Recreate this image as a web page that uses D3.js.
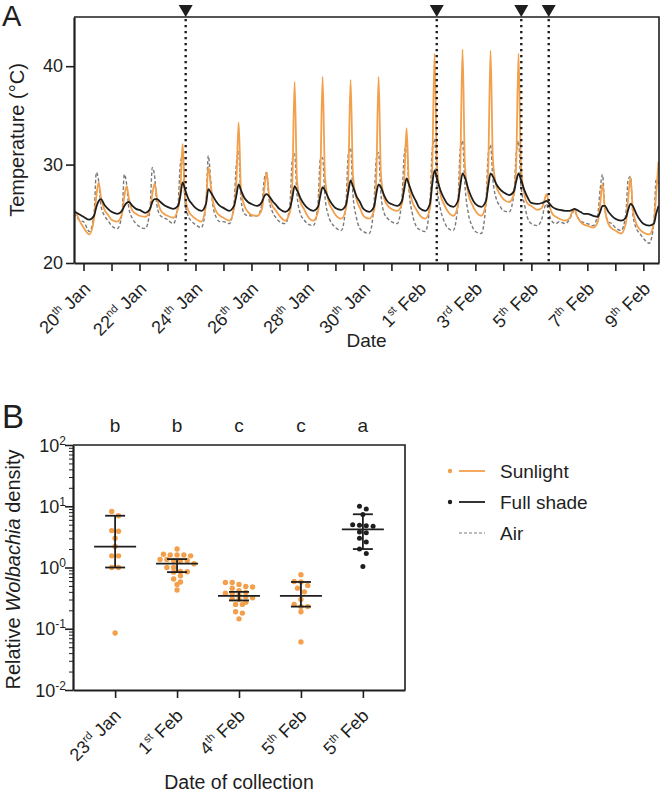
<!DOCTYPE html>
<html><head><meta charset="utf-8">
<script src="https://cdn.jsdelivr.net/npm/d3@7"></script>
<style>
body{margin:0;background:#fff}
svg{display:block}
text{font-family:"Liberation Sans",Arial,sans-serif;fill:#1e1e1e}
</style>
</head><body>
<svg id="chart" width="662" height="793"></svg>
<script>
// ---------------- DATA: panel A (temperature, °C) ----------------
// one row per day, values at these hours of the day
const hoursOfDay = [0, 5, 9, 11, 13, 15, 18, 21];
const firstDay = -1; // rows start on 19 Jan (day -1 relative to 20 Jan)
const sunlight = [
 [null,null,null,null,null,25.6,25.0,24.2],
 [23.6,22.9,24.5,26.8,28.2,26.6,25.4,24.9],
 [24.4,24.2,25.0,26.8,27.8,26.5,25.3,25.0],
 [24.8,24.7,25.4,27.0,28.1,26.6,25.4,25.0],
 [24.8,24.6,25.5,27.5,32.1,26.8,25.3,24.8],
 [24.5,24.2,26.0,29.8,28.0,26.2,25.2,24.8],
 [24.6,24.3,25.5,28.0,34.3,27.5,25.8,25.2],
 [24.9,24.8,25.5,27.5,29.2,27.0,25.8,25.3],
 [24.8,24.3,25.2,28.0,38.4,28.5,26.2,25.5],
 [24.8,24.3,25.2,28.5,38.9,28.8,26.3,25.5],
 [24.9,24.5,25.5,28.5,38.6,29.0,26.5,25.6],
 [24.8,24.5,25.3,28.5,38.9,29.0,26.5,25.8],
 [25.5,25.3,26.0,28.5,33.7,28.0,26.2,25.5],
 [24.9,24.5,25.5,29.5,41.3,30.0,27.0,26.0],
 [25.3,24.8,25.8,29.5,41.7,30.0,27.0,26.0],
 [25.3,24.8,26.0,29.5,41.6,30.5,27.8,27.0],
 [26.5,26.2,27.0,30.0,41.3,30.0,27.0,26.0],
 [25.8,25.4,25.6,26.3,27.0,26.0,25.0,24.7],
 [24.5,24.3,24.6,25.2,25.5,24.8,24.2,23.9],
 [23.8,23.6,24.2,26.0,28.1,25.5,24.0,23.5],
 [23.3,23.0,24.0,26.5,28.7,25.5,24.0,23.4],
 [23.1,22.9,24.0,27.0,30.3]
];
const fullShade = [
 [null,null,null,null,null,25.3,25.1,24.9],
 [24.7,24.4,24.8,25.7,26.3,26.5,25.9,25.5],
 [25.2,25.0,25.3,25.8,26.1,26.2,25.8,25.5],
 [25.4,25.1,25.5,26.2,26.5,26.5,26.2,25.9],
 [25.7,25.5,25.8,26.8,28.2,27.5,26.5,26.0],
 [25.6,25.3,26.0,27.5,27.2,26.8,26.2,25.8],
 [25.6,25.3,25.8,26.8,28.0,27.4,26.6,26.2],
 [26.0,25.8,26.2,26.8,27.0,26.8,26.3,25.9],
 [25.5,25.2,25.6,26.6,27.8,27.4,26.6,26.0],
 [25.6,25.3,25.7,26.8,27.7,27.4,26.6,26.0],
 [25.6,25.4,25.9,27.2,28.4,27.8,26.8,26.2],
 [25.5,25.2,25.7,27.0,28.0,27.7,26.8,26.2],
 [26.0,25.8,26.3,27.5,28.6,28.0,27.0,26.3],
 [25.6,25.3,26.0,28.0,29.4,28.6,27.4,26.6],
 [26.0,25.7,26.3,27.8,29.1,28.7,27.5,26.6],
 [26.0,25.7,26.3,27.8,29.1,28.8,28.0,27.5],
 [27.2,26.9,27.3,28.3,29.1,28.5,27.4,26.6],
 [26.1,26.0,26.1,26.2,26.3,26.1,25.7,25.5],
 [25.4,25.3,25.3,25.4,25.5,25.4,25.2,25.0],
 [25.0,24.8,24.7,25.2,25.8,25.8,25.2,24.8],
 [24.5,24.3,24.6,25.4,26.0,25.8,25.0,24.4],
 [24.0,23.8,24.0,25.0,25.8]
];
const air = [
 [null,null,null,null,null,25.0,24.7,24.3],
 [24.2,23.2,25.0,29.2,28.3,25.8,24.8,24.3],
 [23.8,23.5,25.0,29.0,28.0,25.5,24.5,24.0],
 [23.7,23.5,25.5,29.7,28.8,25.8,24.8,24.6],
 [24.4,24.0,25.8,30.0,30.9,26.3,24.7,24.2],
 [23.9,23.6,26.0,30.9,28.5,25.8,24.6,24.2],
 [24.2,24.0,26.0,30.0,31.3,26.5,25.0,24.8],
 [24.8,24.8,26.0,28.5,29.2,26.5,25.2,24.6],
 [24.2,24.0,26.0,30.5,31.1,27.0,25.0,24.4],
 [24.0,23.8,26.0,30.5,30.7,26.8,24.8,24.0],
 [23.6,23.3,26.0,31.0,31.7,27.0,24.6,23.5],
 [23.2,23.0,25.8,30.5,31.2,27.0,25.0,24.5],
 [24.2,24.0,26.5,31.0,32.0,27.5,25.0,23.8],
 [23.4,23.2,26.0,31.5,32.6,28.0,25.5,24.3],
 [23.6,23.3,26.0,31.5,32.4,28.0,25.0,23.8],
 [23.2,23.0,26.0,31.0,32.0,28.5,26.5,25.8],
 [25.3,25.2,27.0,31.0,32.4,28.0,26.0,24.5],
 [24.0,23.8,24.5,25.5,26.0,25.0,24.2,24.0],
 [24.2,24.0,24.5,25.0,25.4,24.8,24.3,24.1],
 [24.0,23.8,25.0,27.5,29.0,25.5,24.2,24.0],
 [23.6,23.3,25.0,28.5,28.8,25.0,23.5,23.0],
 [22.5,22.0,24.0,28.5,28.0]
];
const tickLabelsA = ["20th Jan","22nd Jan","24th Jan","26th Jan","28th Jan","30th Jan","1st Feb","3rd Feb","5th Feb","7th Feb","9th Feb"];
const tickDaysA = [0,2,4,6,8,10,12,14,16,18,20];
const yTicksA = [20, 30, 40];
const collectionDays = [3.65, 12.62, 15.64, 16.62]; // sampling times (days after 20 Jan)

// ---------------- DATA: panel B (relative Wolbachia density) ----------------
const bLabels = ["23rd Jan","1st Feb","4th Feb","5th Feb","5th Feb"];
const bTreatment = ["Sunlight","Sunlight","Sunlight","Sunlight","Full shade"];
const bLetters = ["b","b","c","c","a"];
const bCentre = [2.2, 1.16, 0.345, 0.345, 4.2];
const bLower  = [1.0, 0.84, 0.29, 0.23, 2.0];
const bUpper  = [7.0, 1.37, 0.40, 0.58, 7.4];
const density23Jan = [8.2, 7.0, 4.0, 3.9, 3.0, 2.2, 1.55, 1.55, 1.0, 1.0, 0.085];
const density1Feb = [2.0, 1.65, 1.6, 1.6, 1.55, 1.6, 1.35, 1.3, 1.3, 1.3, 1.35, 1.15, 1.0, 1.0, 0.86, 0.85, 0.84, 0.73, 0.65, 0.58, 0.53, 0.43];
const density4Feb = [0.57, 0.57, 0.53, 0.49, 0.48, 0.46, 0.42, 0.39, 0.38, 0.38, 0.35, 0.33, 0.32, 0.31, 0.30, 0.27, 0.25, 0.25, 0.19, 0.18, 0.145];
const density5FebSun = [0.76, 0.59, 0.58, 0.51, 0.46, 0.40, 0.30, 0.25, 0.23, 0.23, 0.19, 0.061];
const density5FebShade = [10.0, 9.0, 7.3, 5.0, 4.9, 4.8, 4.7, 3.8, 3.7, 3.0, 2.6, 2.0, 1.7, 1.04];
const bDensities = [density23Jan, density1Feb, density4Feb, density5FebSun, density5FebShade];
const yTicksB = [-2, -1, 0, 1, 2]; // exponents
const legendItems = ["Sunlight", "Full shade", "Air"];

// ---------------- STYLE ----------------
const ORANGE = "#F3A04C", DARK = "#1e1e1e", GREY = "#7a7a7a";
const svg = d3.select("#chart");

function rows2points(rows){
  const pts = [];
  rows.forEach((r, i) => r.forEach((v, j) => {
    if (v !== null && v !== undefined) pts.push({t: firstDay + i + hoursOfDay[j] / 24, v});
  }));
  return pts;
}
function supLabel(sel, label, supSize){
  const m = label.match(/^(\d+)(st|nd|rd|th)\s+(.*)$/);
  sel.append("tspan").text(m[1]);
  sel.append("tspan").attr("font-size", supSize).attr("dy", -7).text(m[2]);
  sel.append("tspan").attr("dy", 7).text("\u00a0" + m[3]);
}

// ================= PANEL A =================
const A = {l: 74, r: 659, t: 17, b: 263};
const xA = d3.scaleLinear().domain([-0.34, 20.56]).range([A.l, A.r]);
const yA = d3.scaleLinear().domain([20, 45]).range([A.b, A.t]);
const gA = svg.append("g");

gA.append("clipPath").attr("id", "clipA").append("rect")
  .attr("x", A.l).attr("y", A.t).attr("width", A.r - A.l).attr("height", A.b - A.t);

const line = d3.line().x(d => xA(d.t)).y(d => yA(d.v)).curve(d3.curveMonotoneX);
const plot = gA.append("g").attr("clip-path", "url(#clipA)");
plot.append("path").datum(rows2points(air)).attr("d", line)
  .attr("fill", "none").attr("stroke", GREY).attr("stroke-width", 1.4).attr("stroke-dasharray", "3.5,2.2");
plot.append("path").datum(rows2points(sunlight)).attr("d", line)
  .attr("fill", "none").attr("stroke", ORANGE).attr("stroke-width", 1.8).attr("stroke-linejoin", "round");
plot.append("path").datum(rows2points(fullShade)).attr("d", line)
  .attr("fill", "none").attr("stroke", DARK).attr("stroke-width", 1.8).attr("stroke-linejoin", "round");

// collection markers
collectionDays.forEach(d => {
  gA.append("line").attr("x1", xA(d)).attr("x2", xA(d)).attr("y1", A.t + 2).attr("y2", A.b)
    .attr("stroke", DARK).attr("stroke-width", 2.4).attr("stroke-dasharray", "2.2,3.8");
  gA.append("path").attr("d", `M${xA(d) - 7},5 L${xA(d) + 7},5 L${xA(d)},${A.t} Z`).attr("fill", DARK);
});

// frame
gA.append("path").attr("d", `M${A.l},${A.t} H${A.r} V${A.b}`).attr("fill", "none").attr("stroke", DARK).attr("stroke-width", 1.6);

// axes
const axA_y = gA.append("g").attr("transform", `translate(${A.l},0)`)
  .call(d3.axisLeft(yA).tickValues(yTicksA).tickSize(8).tickSizeOuter(0).tickPadding(3));
const axA_x = gA.append("g").attr("transform", `translate(0,${A.b})`)
  .call(d3.axisBottom(xA).tickValues(d3.range(0, 21)).tickSize(8).tickSizeOuter(0).tickFormat(""));
[axA_y, axA_x].forEach(a => {
  a.select(".domain").attr("stroke", DARK).attr("stroke-width", 2.2);
  a.selectAll(".tick line").attr("stroke", DARK).attr("stroke-width", 1.6);
});
axA_y.selectAll(".tick text").attr("font-size", 18).attr("font-family", "Liberation Sans, Arial, sans-serif").attr("fill", DARK);

tickDaysA.forEach((d, i) => {
  const t = gA.append("text").attr("font-size", 18).attr("text-anchor", "end")
    .attr("transform", `translate(${xA(d) + 8},${A.b + 27}) rotate(-45)`);
  supLabel(t, tickLabelsA[i], 11);
});

gA.append("text").attr("transform", `translate(24,${(A.t + A.b) / 2}) rotate(-90)`)
  .attr("text-anchor", "middle").attr("font-size", 20).text("Temperature (°C)");
gA.append("text").attr("x", (A.l + A.r) / 2).attr("y", 347).attr("text-anchor", "middle").attr("font-size", 19).text("Date");
svg.append("text").attr("x", 2).attr("y", 26).attr("font-size", 29).text("A");

// ================= PANEL B =================
const B = {l: 73, r: 405, t: 445, b: 690};
const xB = d3.scalePoint().domain(d3.range(bLabels.length)).range([B.l, B.r]).padding(0.68);
const yB = d3.scaleLog().domain([0.01, 100]).range([B.b, B.t]);
const gB = svg.append("g");

// frame
gB.append("path").attr("d", `M${B.l},${B.t} H${B.r} V${B.b}`).attr("fill", "none").attr("stroke", DARK).attr("stroke-width", 1.6);

// minor ticks
const minorVals = [];
for (let e = -2; e < 2; e++) for (let k = 2; k <= 9; k++) minorVals.push(k * Math.pow(10, e));
const axMinor = gB.append("g").attr("transform", `translate(${B.l},0)`)
  .call(d3.axisLeft(yB).tickValues(minorVals).tickSize(4).tickFormat(""));
axMinor.select(".domain").remove();
axMinor.selectAll(".tick line").attr("stroke", DARK).attr("stroke-width", 1);

const axB_y = gB.append("g").attr("transform", `translate(${B.l},0)`)
  .call(d3.axisLeft(yB).tickValues(yTicksB.map(e => Math.pow(10, e))).tickSize(8).tickSizeOuter(0).tickFormat(""));
const axB_x = gB.append("g").attr("transform", `translate(0,${B.b})`)
  .call(d3.axisBottom(xB).tickSize(8).tickSizeOuter(0).tickFormat(""));
[axB_y, axB_x].forEach(a => {
  a.select(".domain").attr("stroke", DARK).attr("stroke-width", 2.2);
  a.selectAll(".tick line").attr("stroke", DARK).attr("stroke-width", 1.6);
});
yTicksB.forEach(e => {
  const t = gB.append("text").attr("x", B.l - 7).attr("y", yB(Math.pow(10, e)) + 6.5)
    .attr("text-anchor", "end").attr("font-size", 18);
  t.append("tspan").text("10");
  t.append("tspan").attr("font-size", 12).attr("dy", -7).text(e < 0 ? "-" + (-e) : String(e));
});

bLabels.forEach((lab, i) => {
  const t = gB.append("text").attr("font-size", 18).attr("text-anchor", "end")
    .attr("transform", `translate(${xB(i) + 7},${B.b + 27}) rotate(-45)`);
  supLabel(t, lab, 11);
  gB.append("text").attr("x", xB(i)).attr("y", 432).attr("text-anchor", "middle").attr("font-size", 19).text(bLetters[i]);
});

// points (beeswarm rows)
const R = 2.7, STEP = 6.8;
bDensities.forEach((vals, i) => {
  const pts = vals.map(v => ({v, y: yB(v)})).sort((a, b) => a.y - b.y);
  const rows = [];
  pts.forEach(p => {
    const last = rows[rows.length - 1];
    if (last && p.y - last[0].y < 4.6) last.push(p); else rows.push([p]);
  });
  const col = bTreatment[i] === "Sunlight" ? ORANGE : DARK;
  const r = bTreatment[i] === "Sunlight" ? R : 2.5;
  rows.forEach(row => row.forEach((p, k) => {
    gB.append("circle").attr("cx", xB(i) + (k - (row.length - 1) / 2) * STEP).attr("cy", p.y)
      .attr("r", r).attr("fill", col);
  }));
  // mean and error bars
  const cx = xB(i);
  gB.append("line").attr("x1", cx).attr("x2", cx).attr("y1", yB(bUpper[i])).attr("y2", yB(bLower[i])).attr("stroke", DARK).attr("stroke-width", 1.8);
  [bUpper[i], bLower[i]].forEach(v => gB.append("line").attr("x1", cx - 10).attr("x2", cx + 10)
    .attr("y1", yB(v)).attr("y2", yB(v)).attr("stroke", DARK).attr("stroke-width", 1.8));
  gB.append("line").attr("x1", cx - 21).attr("x2", cx + 21).attr("y1", yB(bCentre[i])).attr("y2", yB(bCentre[i]))
    .attr("stroke", DARK).attr("stroke-width", 1.8);
});

gB.append("text").attr("transform", `translate(20,${(B.t + B.b) / 2 + 2}) rotate(-90)`)
  .attr("text-anchor", "middle").attr("font-size", 20)
  .call(t => { t.append("tspan").text("Relative "); t.append("tspan").attr("font-style", "italic").text("Wolbachia"); t.append("tspan").text(" density"); });
gB.append("text").attr("x", (B.l + B.r) / 2).attr("y", 789).attr("text-anchor", "middle").attr("font-size", 19.5).text("Date of collection");
svg.append("text").attr("x", 2).attr("y", 428).attr("font-size", 33).text("B");

// legend
const leg = svg.append("g");
legendItems.forEach((name, i) => {
  const y = 471 + i * 31;
  if (name !== "Air") leg.append("circle").attr("cx", 450).attr("cy", y).attr("r", 2.2).attr("fill", name === "Sunlight" ? ORANGE : DARK);
  leg.append("line").attr("x1", 459).attr("x2", 485).attr("y1", y).attr("y2", y)
    .attr("stroke", name === "Sunlight" ? ORANGE : name === "Full shade" ? DARK : GREY)
    .attr("stroke-width", name === "Air" ? 1.2 : 1.8).attr("stroke-dasharray", name === "Air" ? "3,2" : null);
  leg.append("text").attr("x", 500).attr("y", y + 7).attr("font-size", 19).text(name);
});
</script>
</body></html>
